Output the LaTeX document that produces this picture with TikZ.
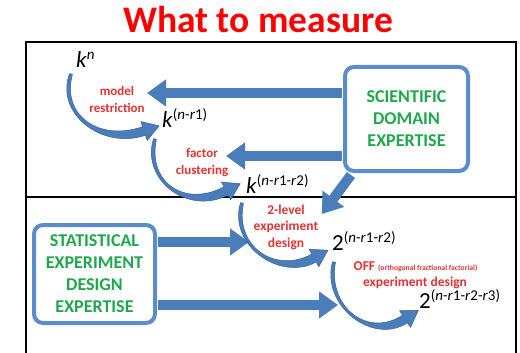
\documentclass[tikz,border=0pt]{standalone}
\usepackage{fontspec}
\setmainfont{Carlito}
\usetikzlibrary{arrows.meta,calc}
\definecolor{arrblue}{RGB}{74,126,187}
\definecolor{arredge}{RGB}{52,96,156}
\definecolor{boxblue}{RGB}{91,140,203}
\definecolor{lblred}{RGB}{226,50,50}
\definecolor{grn}{RGB}{30,168,75}
\newcommand\expo[1]{\raisebox{8pt}{\fontsize{15}{15}\selectfont #1}}
\newcommand\carrow[8]{%
\pgfmathsetmacro\cAdx{#7-#5}\pgfmathsetmacro\cAdy{#8-#6}%
\pgfmathsetmacro\cAl{veclen(\cAdx,\cAdy)}%
\pgfmathsetmacro\cAux{\cAdx/\cAl}\pgfmathsetmacro\cAuy{\cAdy/\cAl}%
\pgfmathsetmacro\cAnx{-\cAuy}\pgfmathsetmacro\cAny{\cAux}%
\pgfmathsetmacro\cBdx{#3-#1}\pgfmathsetmacro\cBdy{#4-#2}%
\pgfmathsetmacro\cBl{veclen(\cBdx,\cBdy)}%
\pgfmathsetmacro\cBmx{-\cBdy/\cBl}\pgfmathsetmacro\cBmy{\cBdx/\cBl}%
\fill[arrblue, draw=arredge, line width=0.5pt, line join=round]
 ({#1+1.5*\cBmx},{#2+1.5*\cBmy}) .. controls ({#3+3.5*\cBmx},{#4+3.5*\cBmy}) and ({#5+4.5*\cAnx},{#6+4.5*\cAny}) .. ({#7+4.5*\cAnx},{#8+4.5*\cAny})
 -- ({#7+10*\cAnx},{#8+10*\cAny}) -- ({#7+16*\cAux},{#8+16*\cAuy}) -- ({#7-10*\cAnx},{#8-10*\cAny}) -- ({#7-4.5*\cAnx},{#8-4.5*\cAny})
 .. controls ({#5-4.5*\cAnx},{#6-4.5*\cAny}) and ({#3-3.5*\cBmx},{#4-3.5*\cBmy}) .. ({#1-1.5*\cBmx},{#2-1.5*\cBmy}) -- cycle;
}
\tikzset{
 expbox/.style={draw=boxblue, line width=4pt, rounded corners=9pt, fill=white, align=center,
   text=grn, font=\fontsize{18}{22}\selectfont\bfseries, inner sep=0pt},
 bigarrow/.style={arrblue, line width=10pt, -{Triangle[length=19pt,width=26pt]}},
 lbl/.style={text=lblred, align=center, inner sep=0pt},
 expr/.style={anchor=base west, inner sep=0pt, font=\fontsize{23}{23}\selectfont},
 frame/.style={line width=1.8pt, draw=black}
}
\begin{document}
\begin{tikzpicture}[x=1pt,y=-1pt]
\useasboundingbox (0,0) rectangle (520,353);
% frames
\draw[frame] (26,42) rectangle (516,197);
\draw[frame] (26,197) -- (26,356) (516,197) -- (516,356);
% title
\node[anchor=base, text=red, inner sep=0pt, font=\fontsize{37.5}{38}\selectfont\bfseries] (title) at (258,33) {What to measure};
% expertise boxes
\node[expbox, minimum width=123pt, minimum height=104pt] (sci) at (406.5,119) {SCIENTIFIC\\DOMAIN\\EXPERTISE};
\node[expbox, minimum width=121pt, minimum height=98pt] (stat) at (94.5,274) {STATISTICAL\\EXPERIMENT\\DESIGN\\EXPERTISE};
% arrow end points
\coordinate (t1) at (147,93);
\coordinate (t2) at (226,156);
\coordinate (t3) at (322,214);
\coordinate (t4) at (249,242);
\coordinate (t5) at (338,305);
\draw[bigarrow] ([xshift=-1pt]sci.west |- t1) -- (t1);
\draw[bigarrow] ([xshift=-1pt]sci.west |- t2) -- (t2);
\draw[bigarrow] ([xshift=8pt,yshift=-2pt]sci.south west) -- (t3);
\draw[bigarrow] ([xshift=1pt]stat.east |- t4) -- (t4);
\draw[bigarrow] ([xshift=1pt]stat.east |- t5) -- (t5);
% curved arrows
\carrow{71}{74}{58}{114}{100}{146}{144}{131}
\carrow{155}{139}{144}{180}{185}{212}{226}{191}
\carrow{242}{203}{231}{246}{278}{278}{314}{258}
\carrow{334}{262}{324}{306}{370}{342}{405}{319}
% expressions
\node[expr] (kn) at (76,68) {\textit{k}\expo{\textit{n}}};
\node[expr] (k1) at (162,128) {\textit{k}\expo{(\textit{n}-\textit{r}1)}};
\node[expr] (k2) at (246,193) {\textit{k}\expo{(\textit{n}-\textit{r}1-\textit{r}2)}};
\node[expr] (p2) at (332,250) {2\expo{(\textit{n}-\textit{r}1-\textit{r}2)}};
\node[expr] (p3) at (419,308) {2\expo{(\textit{n}-\textit{r}1-\textit{r}2-\textit{r}3)}};
% labels
\node[lbl, font=\fontsize{13}{17}\selectfont\bfseries] (mr) at (117,99) {model\\restriction};
\node[lbl, font=\fontsize{13}{17}\selectfont\bfseries] (fc) at (202,163) {factor\\clustering};
\node[lbl, font=\fontsize{13.5}{16.5}\selectfont\bfseries] (tl) at (286,227) {2-level\\experiment\\design};
\node[lbl, anchor=base, font=\fontsize{13.5}{14}\selectfont\bfseries] (off) at (415.5,270) {OFF {\fontsize{7.6}{8}\selectfont (orthogonal fractional factorial)}};
\node[lbl, anchor=base, font=\fontsize{13.5}{16}\selectfont\bfseries] (ed) at (415,286) {experiment design};
\end{tikzpicture}
\end{document}
